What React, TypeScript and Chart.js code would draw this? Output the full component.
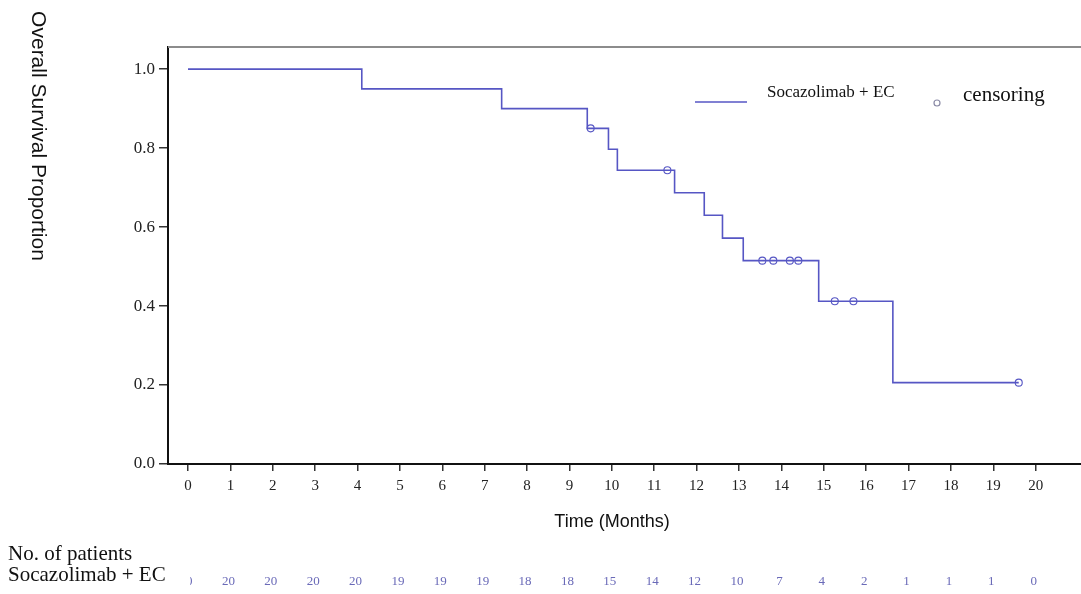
import React, { useEffect, useRef } from "react";
import { Chart, registerables } from "chart.js";

Chart.register(...registerables);

// Kaplan-Meier step curve (event times in months, survival after event)
const stepTimes = [0, 4.1, 7.4, 9.42, 9.92, 10.13, 11.48, 12.18, 12.61, 13.1, 14.88, 16.63, 19.6];
const stepSurvival = [1.0, 0.95, 0.9, 0.85, 0.797, 0.744, 0.687, 0.63, 0.572, 0.515, 0.412, 0.206, 0.206];

// Censoring marks
const censorTimes = [9.5, 11.31, 13.55, 13.81, 14.2, 14.4, 15.26, 15.7, 19.6];
const censorSurvival = [0.85, 0.744, 0.515, 0.515, 0.515, 0.515, 0.412, 0.412, 0.206];

// Axis ticks
const xTicks = [0, 1, 2, 3, 4, 5, 6, 7, 8, 9, 10, 11, 12, 13, 14, 15, 16, 17, 18, 19, 20];
const yTicks = [0, 0.2, 0.4, 0.6, 0.8, 1.0];

// Number at risk table
const atRiskTimes = [0, 1, 2, 3, 4, 5, 6, 7, 8, 9, 10, 11, 12, 13, 14, 15, 16, 17, 18, 19, 20];
const atRiskCounts = [20, 20, 20, 20, 20, 19, 19, 19, 18, 18, 15, 14, 12, 10, 7, 4, 2, 1, 1, 1, 0];

const seriesName = "Socazolimab + EC";
const censorName = "censoring";
const xTitle = "Time (Months)";
const yTitle = "Overall Survival Proportion";
const tableTitle = "No. of patients";

const LINE_COLOR = "#5656c4";
const SERIF = "'Liberation Serif', 'Times New Roman', serif";
const SANS = "'Liberation Sans', Arial, sans-serif";

const W = 1081;
const H = 594;
const CANVAS_W = 1087;

const overlayPlugin = {
  id: "kmOverlay",
  afterDraw(chart: any) {
    const { ctx, chartArea } = chart;
    const xs = chart.scales.x;
    ctx.save();
    // top frame line
    ctx.strokeStyle = "#8c8c8c";
    ctx.lineWidth = 2;
    ctx.beginPath();
    ctx.moveTo(chartArea.left, chartArea.top);
    ctx.lineTo(chartArea.right, chartArea.top);
    ctx.stroke();

    // legend
    ctx.strokeStyle = LINE_COLOR;
    ctx.lineWidth = 1.6;
    ctx.beginPath();
    ctx.moveTo(695, 102);
    ctx.lineTo(747, 102);
    ctx.stroke();
    ctx.fillStyle = "#111";
    ctx.textBaseline = "middle";
    ctx.textAlign = "left";
    ctx.font = `17px ${SERIF}`;
    ctx.fillText(seriesName, 767, 93);
    ctx.strokeStyle = "#8a8aa6";
    ctx.lineWidth = 1.2;
    ctx.beginPath();
    ctx.arc(937, 103, 3, 0, Math.PI * 2);
    ctx.stroke();
    ctx.font = `21px ${SERIF}`;
    ctx.fillStyle = "#111";
    ctx.fillText(censorName, 963, 95);

    // x title
    ctx.font = `18px ${SANS}`;
    ctx.textAlign = "center";
    ctx.fillStyle = "#111";
    ctx.fillText(xTitle, 612, 522);

    // y title rotated clockwise
    ctx.save();
    ctx.translate(38, 136);
    ctx.rotate(Math.PI / 2);
    ctx.font = `21px ${SANS}`;
    ctx.textAlign = "center";
    ctx.fillText(yTitle, 0, 0);
    ctx.restore();

    // at-risk numbers
    ctx.font = `13px ${SERIF}`;
    ctx.fillStyle = "#6a6ab8";
    ctx.textAlign = "center";
    atRiskTimes.forEach((t, i) => {
      ctx.fillText(String(atRiskCounts[i]), xs.getPixelForValue(t) - 2, 582);
    });
    // label area (white background covers first entry partly)
    ctx.fillStyle = "#ffffff";
    ctx.fillRect(0, 540, 190, 54);
    ctx.fillStyle = "#111";
    ctx.textAlign = "left";
    ctx.font = `21px ${SERIF}`;
    ctx.fillText(tableTitle, 8, 554);
    ctx.fillText(seriesName, 8, 575);
    ctx.restore();
  },
};

export default function App() {
  const ref = useRef<HTMLCanvasElement>(null);
  useEffect(() => {
    if (!ref.current) return;
    const stepData = stepTimes.map((t, i) => ({ x: t, y: stepSurvival[i] }));
    const censorData = censorTimes.map((t, i) => ({ x: t, y: censorSurvival[i] }));
    const chart = new Chart(ref.current, {
      type: "line",
      data: {
        datasets: [
          {
            label: seriesName,
            data: stepData,
            stepped: "before",
            borderColor: LINE_COLOR,
            borderWidth: 1.6,
            pointRadius: 0,
            fill: false,
          } as any,
          {
            label: censorName,
            data: censorData,
            showLine: false,
            pointStyle: "circle",
            pointRadius: 3.5,
            borderColor: LINE_COLOR,
            borderWidth: 1.1,
            backgroundColor: "rgba(255,255,255,0)",
          } as any,
        ],
      },
      options: {
        responsive: false,
        animation: false,
        layout: { padding: { top: 47, left: 0, right: 0, bottom: 0 } },
        plugins: { legend: { display: false }, tooltip: { enabled: false } },
        scales: {
          x: {
            type: "linear",
            min: -0.472,
            max: 21.09,
            afterBuildTicks: (s: any) => {
              s.ticks = xTicks.map((v) => ({ value: v }));
            },
            afterFit: (s: any) => {
              s.height = H - 464;
            },
            ticks: {
              autoSkip: false,
              maxRotation: 0,
              color: "#222",
              padding: 6,
              font: { family: SERIF, size: 15 },
              callback: (v: any) => String(v),
            },
            grid: { drawOnChartArea: false, drawTicks: true, tickLength: 7, color: "#333", lineWidth: 1.5 },
            border: { color: "#111", width: 2 },
          },
          y: {
            type: "linear",
            min: 0,
            max: 1.056,
            afterBuildTicks: (s: any) => {
              s.ticks = yTicks.map((v) => ({ value: v }));
            },
            afterFit: (s: any) => {
              s.width = 168;
            },
            ticks: {
              color: "#222",
              padding: 4,
              font: { family: SERIF, size: 17 },
              callback: (v: any) => Number(v).toFixed(1),
            },
            grid: { drawOnChartArea: false, drawTicks: true, tickLength: 9, color: "#333", lineWidth: 1.5 },
            border: { color: "#111", width: 2 },
          },
        },
      },
      plugins: [overlayPlugin],
    });
    return () => chart.destroy();
  }, []);
  return (
    <div style={{ position: "absolute", left: 0, top: 0, width: W, height: H, background: "#fff", overflow: "hidden" }}>
      <canvas ref={ref} width={CANVAS_W} height={H} style={{ display: "block" }} />
    </div>
  );
}
